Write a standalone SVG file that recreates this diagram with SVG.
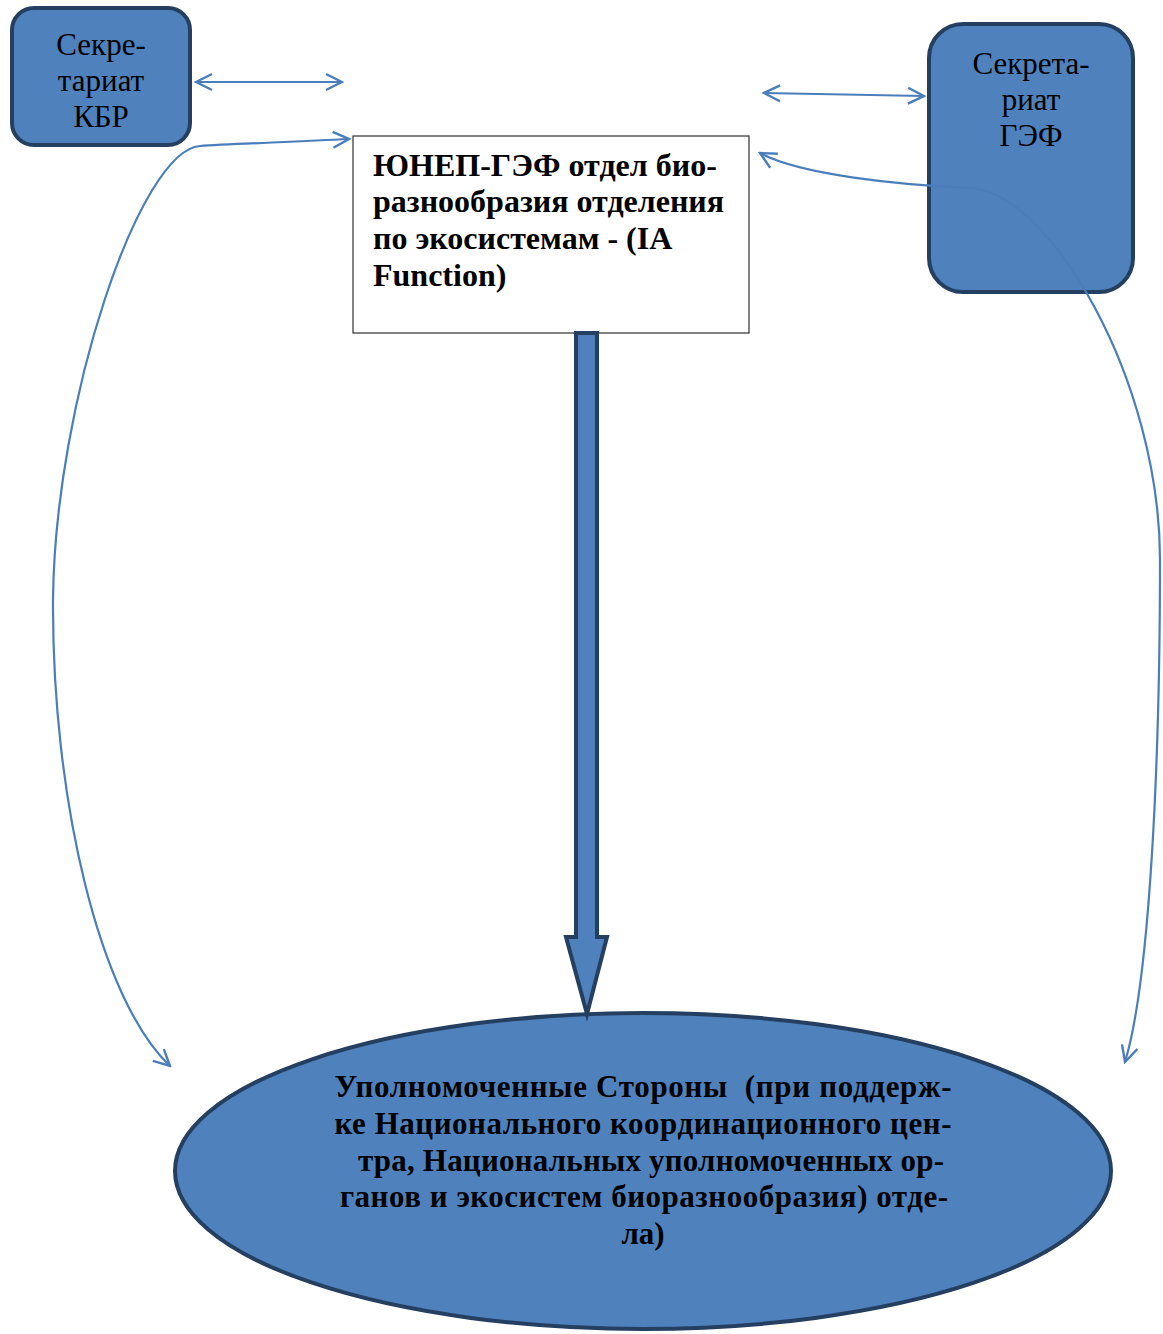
<svg xmlns="http://www.w3.org/2000/svg" width="1163" height="1334" viewBox="0 0 1163 1334">
<defs>
<style>
.node{fill:#4f81bd;stroke:#243f60;stroke-width:4}
.con{fill:none;stroke:#4a7ebb;stroke-width:2.2}
text{font-family:"Liberation Serif","Times New Roman",serif;fill:#000}
.reg{font-size:31px;text-anchor:middle}
.b{font-weight:bold}
</style>
<marker id="open" viewBox="0 0 20 20" refX="18" refY="10" markerWidth="20" markerHeight="20" markerUnits="userSpaceOnUse" orient="auto-start-reverse">
<path d="M2,2 L18,10 L2,18" fill="none" stroke="#4a7ebb" stroke-width="2.4"/>
</marker>
</defs>
<rect width="1163" height="1334" fill="#fff"/>
<g id="node-kbr">
<rect class="node" x="12" y="8" width="178" height="137" rx="22"/>
<text class="reg" font-family="Liberation Serif, serif" x="101" y="55">Секре-</text>
<text class="reg" font-family="Liberation Serif, serif" x="101" y="91">тариат</text>
<text class="reg" font-family="Liberation Serif, serif" x="101" y="127">КБР</text>
</g>
<g id="node-gef">
<rect class="node" x="929" y="24" width="204" height="268" rx="34"/>
<text class="reg" font-family="Liberation Serif, serif" x="1031" y="74">Секрета-</text>
<text class="reg" font-family="Liberation Serif, serif" x="1031" y="110">риат</text>
<text class="reg" font-family="Liberation Serif, serif" x="1031" y="146">ГЭФ</text>
</g>
<g id="node-unep">
<rect x="353" y="136" width="396" height="197" fill="#fff" stroke="#404040" stroke-width="1.3"/>
<g class="b" font-family="Liberation Serif, serif" font-size="32">
<text x="373" y="176">ЮНЕП-ГЭФ отдел био-</text>
<text x="373" y="212">разнообразия отделения</text>
<text x="373" y="249">по экосистемам - (IA</text>
<text x="373" y="286">Function)</text>
</g>
</g>
<g id="node-parties">
<ellipse class="node" cx="643" cy="1171" rx="468" ry="158"/>
<g class="b" font-family="Liberation Serif, serif" font-size="31" text-anchor="middle">
<text x="643" y="1097" xml:space="preserve" textLength="617" lengthAdjust="spacing">Уполномоченные Стороны  (при поддерж-</text>
<text x="643" y="1134" textLength="617" lengthAdjust="spacing">ке Национального координационного цен-</text>
<text x="651" y="1171" textLength="586" lengthAdjust="spacing">тра, Национальных уполномоченных ор-</text>
<text x="644" y="1207" textLength="608" lengthAdjust="spacing">ганов и экосистем биоразнообразия) отде-</text>
<text x="643" y="1244">ла)</text>
</g>
</g>
<g id="connectors">
<line class="con" x1="196" y1="82" x2="342" y2="82" marker-start="url(#open)" marker-end="url(#open)"/>
<line class="con" x1="764" y1="93" x2="924" y2="96" marker-start="url(#open)" marker-end="url(#open)"/>
<path class="con" d="M349,139 C290,142 230,144 200,146 C140,150 55,400 53,600 C52,800 100,1000 170,1066" marker-start="url(#open)" marker-end="url(#open)"/>
<path class="con" d="M760,153 C800,175 900,185 970,188 C1050,192 1160,380 1160,560 C1160,760 1150,980 1125,1062" marker-start="url(#open)" marker-end="url(#open)"/>
<path id="block-arrow" class="node" d="M576,333 L597,333 L597,937 L607,937 L587,1014 L566,937 L576,937 Z"/>
</g>
</svg>
